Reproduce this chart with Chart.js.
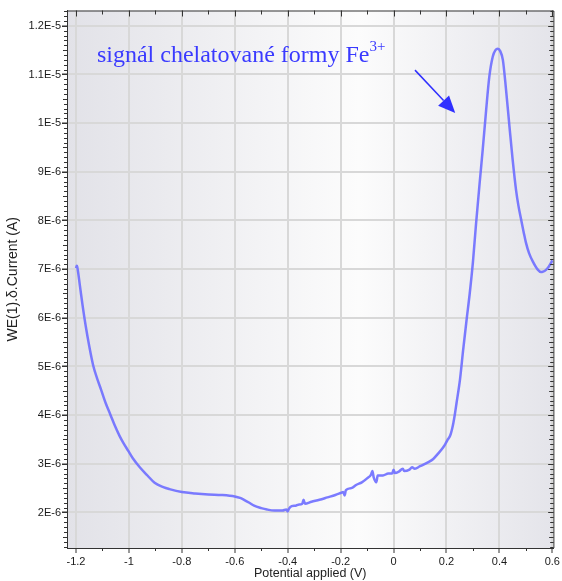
<!DOCTYPE html>
<html>
<head>
<meta charset="utf-8">
<script src="https://cdn.jsdelivr.net/npm/chart.js@4.4.1/dist/chart.umd.min.js"></script>
<style>
  html, body { margin: 0; padding: 0; background: #fff; }
  #wrap { width: 562px; height: 581px; }
</style>
</head>
<body>
<div id="wrap"><canvas id="dpvChart" width="562" height="581"></canvas></div>
<script>
// Potential applied (V)
const potential = [
  -1.200, -1.197, -1.195, -1.185, -1.175, -1.163, -1.150, -1.135, -1.120, -1.105,
  -1.088, -1.070, -1.053, -1.036, -1.020, -1.003, -0.986, -0.959, -0.930, -0.903,
  -0.870, -0.847, -0.800, -0.750, -0.700, -0.650, -0.600, -0.580, -0.565, -0.545,
  -0.527, -0.500, -0.478, -0.450, -0.420, -0.405, -0.400, -0.395, -0.385, -0.370,
  -0.360, -0.345, -0.340, -0.335, -0.310, -0.280, -0.250, -0.220, -0.200, -0.190,
  -0.185, -0.180, -0.160, -0.140, -0.120, -0.100, -0.085, -0.080, -0.075, -0.065,
  -0.060, -0.040, -0.020, -0.005, 0.000, 0.005, 0.020, 0.035, 0.040, 0.060,
  0.070, 0.080, 0.100, 0.130, 0.150, 0.170, 0.185, 0.195, 0.205, 0.214,
  0.220, 0.226, 0.232, 0.238, 0.251, 0.263, 0.276, 0.288, 0.300, 0.312,
  0.325, 0.337, 0.350, 0.362, 0.375, 0.385, 0.394, 0.403, 0.413, 0.425,
  0.438, 0.450, 0.463, 0.472, 0.482, 0.492, 0.500, 0.512, 0.526, 0.545,
  0.557, 0.565, 0.575, 0.585, 0.597, 0.600
];

// WE(1).δ.Current in µA (converted to A below)
const currentMicroA = [
  7.02, 7.07, 7.04, 6.65, 6.25, 5.82, 5.42, 5.02, 4.75, 4.52,
  4.25, 4.01, 3.78, 3.58, 3.42, 3.27, 3.12, 2.93, 2.76, 2.61,
  2.52, 2.48, 2.42, 2.39, 2.37, 2.36, 2.33, 2.30, 2.26, 2.20,
  2.14, 2.09, 2.06, 2.04, 2.04, 2.06, 2.02, 2.08, 2.13, 2.14,
  2.16, 2.18, 2.26, 2.18, 2.22, 2.26, 2.31, 2.36, 2.40, 2.42,
  2.35, 2.46, 2.50, 2.57, 2.62, 2.70, 2.78, 2.85, 2.72, 2.62,
  2.76, 2.76, 2.80, 2.80, 2.88, 2.81, 2.84, 2.90, 2.85, 2.88,
  2.93, 2.90, 2.95, 3.03, 3.10, 3.22, 3.32, 3.40, 3.50, 3.58,
  3.69, 3.84, 4.03, 4.25, 4.73, 5.34, 5.96, 6.51, 7.15, 7.95,
  8.75, 9.46, 10.28, 10.96, 11.37, 11.50, 11.53, 11.48, 11.30, 10.69,
  9.93, 9.25, 8.62, 8.30, 8.02, 7.75, 7.55, 7.33, 7.16, 6.99,
  6.94, 6.95, 6.98, 7.04, 7.15, 7.18
];

const xTicks = [-1.2, -1, -0.8, -0.6, -0.4, -0.2, 0, 0.2, 0.4, 0.6];
const xTickLabels = ['-1.2', '-1', '-0.8', '-0.6', '-0.4', '-0.2', '0', '0.2', '0.4', '0.6'];
const yTicks = [2e-6, 3e-6, 4e-6, 5e-6, 6e-6, 7e-6, 8e-6, 9e-6, 1e-5, 1.1e-5, 1.2e-5];
const yTickLabels = ['2E-6', '3E-6', '4E-6', '5E-6', '6E-6', '7E-6', '8E-6', '9E-6', '1E-5', '1.1E-5', '1.2E-5'];

const noteText = 'signál chelatované formy Fe';
const noteSup = '3+';

const points = potential.map((v, i) => ({ x: v, y: currentMicroA[i] * 1e-6 }));

// gradient behind the plot area
const plotBackground = {
    id: 'plotBackground',
    beforeDraw(chart) {
        const { ctx, chartArea: a } = chart;
        const g = ctx.createLinearGradient(a.left, 0, a.right, 0);
        g.addColorStop(0, '#e2e2e8');
        g.addColorStop(0.6, '#fcfcfc');
        g.addColorStop(1, '#e4e4ea');
        ctx.save();
        ctx.fillStyle = g;
        ctx.fillRect(a.left, a.top, a.right - a.left, a.bottom - a.top);
        ctx.restore();
    }
};

// frame, minor ticks and the arrow note
const frameAndNote = {
    id: 'frameAndNote',
    afterDraw(chart) {
        const { ctx, chartArea: a, scales: { x, y } } = chart;
        ctx.save();
        ctx.strokeStyle = '#333';
        ctx.lineWidth = 1;

        // top + right border
        ctx.beginPath();
        ctx.moveTo(a.left, a.top + 0.5);
        ctx.lineTo(a.right + 0.5, a.top + 0.5);
        ctx.lineTo(a.right + 0.5, a.bottom);
        ctx.stroke();

        // x ticks: minor on bottom, major+minor on top
        ctx.beginPath();
        for (let i = 0; i < xTicks.length; i++) {
            const px = Math.round(x.getPixelForValue(xTicks[i])) + 0.5;
            ctx.moveTo(px, a.top);
            ctx.lineTo(px, a.top + 6);
            if (i < xTicks.length - 1) {
                const mx = Math.round(x.getPixelForValue((xTicks[i] + xTicks[i + 1]) / 2)) + 0.5;
                ctx.moveTo(mx, a.bottom);
                ctx.lineTo(mx, a.bottom + 3);
                ctx.moveTo(mx, a.top);
                ctx.lineTo(mx, a.top + 4);
            }
        }
        ctx.stroke();

        // y minor ticks, left (outside) and right (inside)
        const step = (yTicks[1] - yTicks[0]) / 10;
        ctx.beginPath();
        for (let v = y.min; v <= y.max; v += step / 2) {
            const k = Math.round((v - yTicks[0]) / step);
            const val = yTicks[0] + k * step;
            if (val < y.min || val > y.max) continue;
            const py = Math.round(y.getPixelForValue(val)) + 0.5;
            const len = k % 10 === 0 ? 5 : (k % 5 === 0 ? 4 : 3);
            ctx.moveTo(a.left - len, py);
            ctx.lineTo(a.left, py);
            ctx.moveTo(a.right, py);
            ctx.lineTo(a.right - len, py);
        }
        ctx.stroke();

        // note text
        const tx = x.getPixelForValue(-1.121);
        const ty = y.getPixelForValue(11.26e-6);
        ctx.fillStyle = '#3a3aff';
        ctx.font = '24px "Liberation Serif", "Times New Roman", serif';
        ctx.textBaseline = 'alphabetic';
        ctx.textAlign = 'left';
        ctx.fillText(noteText, tx, ty);
        const w = ctx.measureText(noteText).width;
        ctx.font = '15px "Liberation Serif", "Times New Roman", serif';
        ctx.fillText(noteSup, tx + w, ty - 11);

        // arrow
        const x0 = x.getPixelForValue(0.081), y0 = y.getPixelForValue(11.09e-6);
        const x1 = x.getPixelForValue(0.233), y1 = y.getPixelForValue(10.21e-6);
        const ang = Math.atan2(y1 - y0, x1 - x0);
        const head = 17, half = 7.5;
        const bx = x1 - head * Math.cos(ang), by = y1 - head * Math.sin(ang);
        ctx.strokeStyle = '#3030ff';
        ctx.fillStyle = '#3030ff';
        ctx.lineWidth = 1.5;
        ctx.beginPath();
        ctx.moveTo(x0, y0);
        ctx.lineTo(bx, by);
        ctx.stroke();
        ctx.beginPath();
        ctx.moveTo(x1, y1);
        ctx.lineTo(bx + half * Math.sin(ang), by - half * Math.cos(ang));
        ctx.lineTo(bx - half * Math.sin(ang), by + half * Math.cos(ang));
        ctx.closePath();
        ctx.fill();
        ctx.restore();
    }
};

new Chart(document.getElementById('dpvChart'), {
    type: 'line',
    data: {
        datasets: [{
            data: points,
            borderColor: 'rgba(112, 112, 255, 0.92)',
            borderWidth: 2.5,
            pointRadius: 0,
            fill: false,
            cubicInterpolationMode: 'monotone'
        }]
    },
    options: {
        responsive: false,
        devicePixelRatio: 1,
        animation: false,
        layout: { padding: { top: 10.5, right: 7, left: 0, bottom: 0 } },
        plugins: {
            legend: { display: false },
            tooltip: { enabled: false }
        },
        scales: {
            x: {
                type: 'linear',
                min: -1.234,
                max: 0.604,
                afterFit: s => { s.height = 33; },
                afterBuildTicks: s => { s.ticks = xTicks.map(v => ({ value: v })); },
                grid: {
                    color: '#d8d8d8',
                    lineWidth: 2,
                    tickLength: 5,
                    tickColor: '#333',
                    tickWidth: 1
                },
                border: { color: '#333', width: 1 },
                ticks: {
                    autoSkip: false,
                    maxRotation: 0,
                    padding: 2,
                    color: '#1a1a1a',
                    font: { family: '"Liberation Sans", Arial, sans-serif', size: 11 },
                    callback: (value, index) => xTickLabels[index]
                },
                title: {
                    display: true,
                    text: 'Potential applied (V)',
                    color: '#222',
                    padding: { top: 1, bottom: 0 },
                    font: { family: '"Liberation Sans", Arial, sans-serif', size: 12.5 }
                }
            },
            y: {
                type: 'linear',
                min: 1.27e-6,
                max: 1.2315e-5,
                afterFit: s => { s.width = 67; },
                afterBuildTicks: s => { s.ticks = yTicks.map(v => ({ value: v })); },
                grid: {
                    color: '#d8d8d8',
                    lineWidth: 2,
                    tickLength: 5,
                    tickColor: '#333',
                    tickWidth: 1
                },
                border: { color: '#333', width: 1 },
                ticks: {
                    autoSkip: false,
                    padding: 1,
                    color: '#1a1a1a',
                    font: { family: '"Liberation Sans", Arial, sans-serif', size: 11 },
                    callback: (value, index) => yTickLabels[index]
                },
                title: {
                    display: true,
                    text: 'WE(1).δ.Current (A)',
                    color: '#222',
                    padding: { top: 5, bottom: 0 },
                    font: { family: '"Liberation Sans", Arial, sans-serif', size: 14 }
                }
            }
        }
    },
    plugins: [plotBackground, frameAndNote]
});
</script>
</body>
</html>
